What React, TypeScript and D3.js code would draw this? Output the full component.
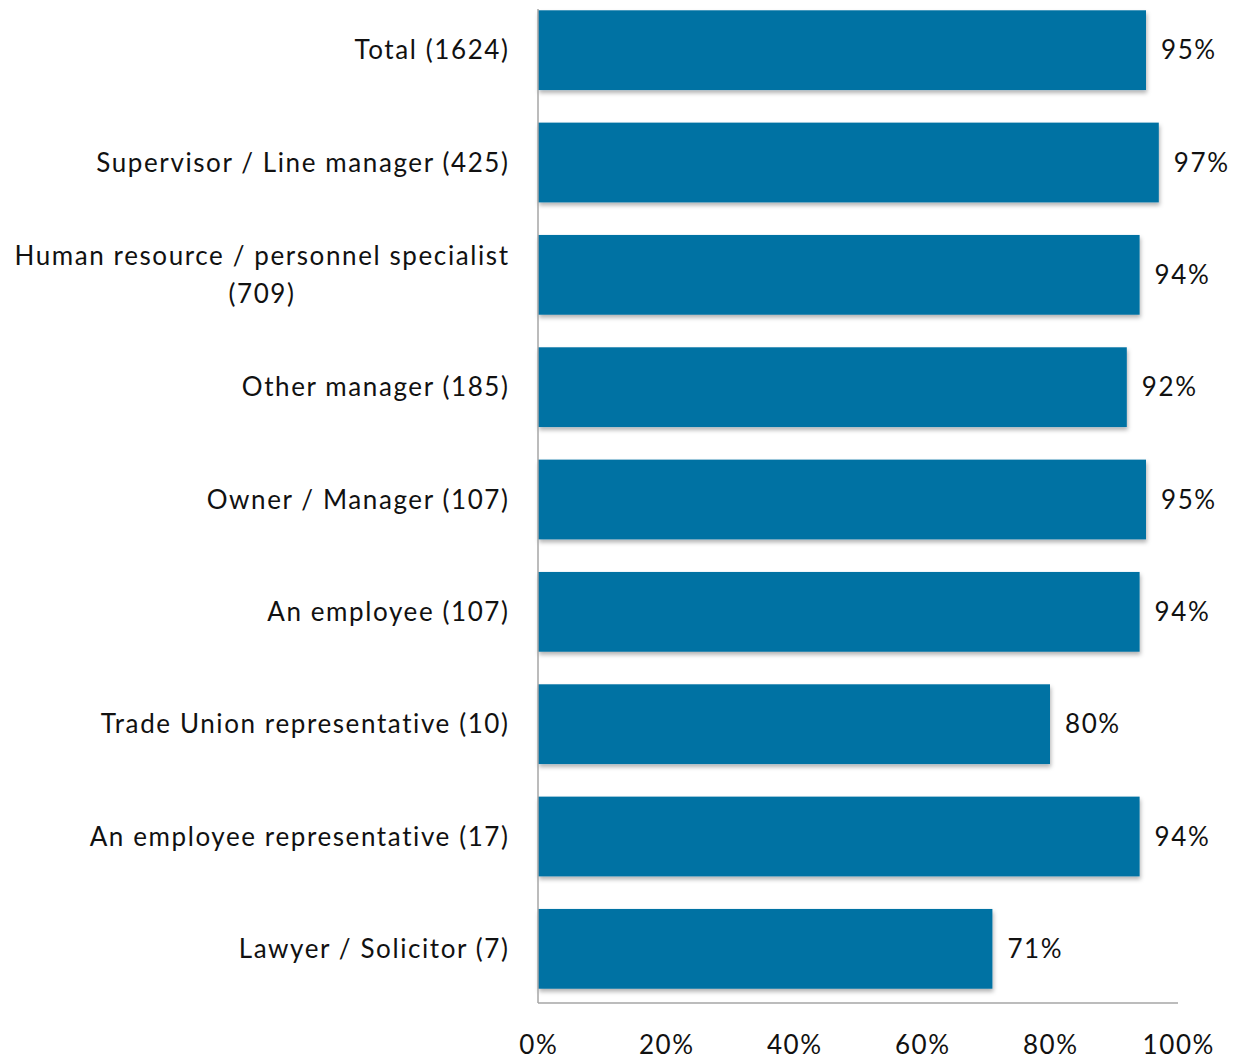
import React, { useEffect, useRef } from 'react';
import * as d3 from 'd3';

const categories = [
  'Total (1624)',
  'Supervisor / Line manager (425)',
  'Human resource / personnel specialist|(709)',
  'Other manager (185)',
  'Owner / Manager (107)',
  'An employee (107)',
  'Trade Union representative (10)',
  'An employee representative (17)',
  'Lawyer / Solicitor (7)',
];
const values = [95, 97, 94, 92, 95, 94, 80, 94, 71];
const ticks = [0, 20, 40, 60, 80, 100];

const W = 1240;
const H = 1059;
const FONT = 'Lato, "Open Sans", sans-serif';
const LS = 1.6; // letter spacing, the source font runs wider than Lato

const App: React.FC = () => {
  const svgRef = useRef<SVGSVGElement | null>(null);

  useEffect(() => {
    const svg = d3.select(svgRef.current);
    svg.selectAll('*').remove();

    const x = d3.scaleLinear().domain([0, 100]).range([538, 1178]);
    const y = d3
      .scaleBand<string>()
      .domain(categories)
      .range([-6, 1005])
      .paddingInner(0.29)
      .paddingOuter(0.145);

    const defs = svg.append('defs');
    const f = defs
      .append('filter')
      .attr('id', 'shadow')
      .attr('x', '-5%')
      .attr('y', '-10%')
      .attr('width', '110%')
      .attr('height', '130%');
    f.append('feDropShadow')
      .attr('dx', 1)
      .attr('dy', 3)
      .attr('stdDeviation', 2)
      .attr('flood-color', '#000')
      .attr('flood-opacity', 0.3);

    // bars
    svg
      .append('g')
      .selectAll('rect')
      .data(values)
      .join('rect')
      .attr('x', x(0))
      .attr('y', (_, i) => y(categories[i])!)
      .attr('width', d => x(d) - x(0))
      .attr('height', y.bandwidth())
      .attr('fill', '#0072A3')
      .attr('filter', 'url(#shadow)');

    // axis lines
    svg
      .append('line')
      .attr('x1', x(0))
      .attr('x2', x(0))
      .attr('y1', 9)
      .attr('y2', 1003)
      .attr('stroke', '#a6a6a6')
      .attr('stroke-width', 1.5);
    svg
      .append('line')
      .attr('x1', x(0))
      .attr('x2', x(100))
      .attr('y1', 1003)
      .attr('y2', 1003)
      .attr('stroke', '#a6a6a6')
      .attr('stroke-width', 1.5);

    const txt = (g: d3.Selection<any, any, any, any>) =>
      g
        .attr('font-family', FONT)
        .attr('font-size', 26)
        .attr('letter-spacing', LS)
        .attr('fill', '#111');

    // value labels
    svg
      .append('g')
      .call(txt)
      .selectAll('text')
      .data(values)
      .join('text')
      .attr('x', d => x(d) + 15)
      .attr('y', (_, i) => y(categories[i])! + y.bandwidth() / 2)
      .attr('dy', '0.35em')
      .text(d => `${d}%`);

    // category labels
    const lab = svg.append('g').call(txt);
    categories.forEach(c => {
      const lines = c.split('|');
      const cy = y(c)! + y.bandwidth() / 2;
      const lh = 38;
      const t0 = lab
        .append('text')
        .attr('x', 508 + LS)
        .attr('y', cy - ((lines.length - 1) * lh) / 2)
        .attr('dy', '0.35em')
        .attr('text-anchor', 'end')
        .text(lines[0]);
      if (lines.length > 1) {
        const w = (t0.node() as SVGTextElement).getComputedTextLength();
        lines.slice(1).forEach((ln, j) => {
          lab
            .append('text')
            .attr('x', 508 + LS - w / 2)
            .attr('y', cy - ((lines.length - 1) * lh) / 2 + (j + 1) * lh)
            .attr('dy', '0.35em')
            .attr('text-anchor', 'middle')
            .text(ln);
        });
      }
    });

    // x tick labels
    svg
      .append('g')
      .call(txt)
      .selectAll('text')
      .data(ticks)
      .join('text')
      .attr('x', d => x(d) + LS / 2)
      .attr('y', 1045)
      .attr('dy', '0.35em')
      .attr('text-anchor', 'middle')
      .text(d => `${d}%`);
  }, []);

  return (
    <svg
      ref={svgRef}
      width={W}
      height={H}
      style={{ position: 'absolute', left: 0, top: 0, background: '#fff' }}
    ></svg>
  );
};

export default App;
